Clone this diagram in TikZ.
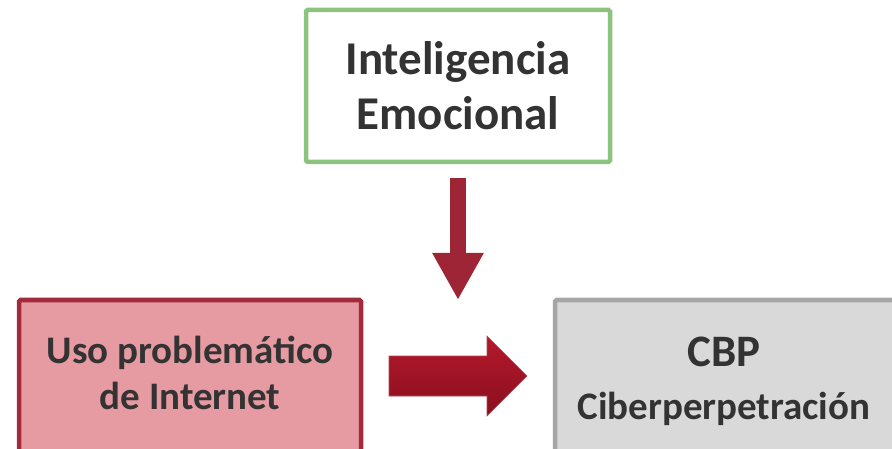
\documentclass[tikz,border=0pt]{standalone}
\usepackage{fontspec}
\setmainfont{Carlito}
\usetikzlibrary{arrows.meta,calc}
\definecolor{txtgray}{HTML}{333333}
\definecolor{iegreen}{HTML}{8CC47F}
\definecolor{pired}{HTML}{A22B3B}
\definecolor{pipink}{HTML}{E69AA1}
\definecolor{cbpline}{HTML}{A6A6A6}
\definecolor{cbpfill}{HTML}{D9D9D9}
\definecolor{arrdown}{HTML}{9E2536}
\definecolor{arrtop}{HTML}{B3192C}
\definecolor{arrbot}{HTML}{8A0F1F}
\tikzset{
  boxbase/.style={rectangle, line width=4.5pt, rounded corners=1.5pt, inner sep=0pt},
  iebox/.style={boxbase, draw=iegreen, fill=white, minimum width=304pt, minimum height=152pt,
     align=center, text=txtgray, font=\bfseries\fontsize{47}{55}\selectfont},
  pibox/.style={boxbase, draw=pired, fill=pipink, minimum width=342pt, minimum height=220pt},
  cbpbox/.style={boxbase, draw=cbpline, fill=cbpfill, minimum width=342pt, minimum height=220pt},
  boxtext/.style={align=center, text=txtgray, inner sep=0pt, font=\bfseries\fontsize{39}{46}\selectfont},
}
\begin{document}
\begin{tikzpicture}[x=1pt,y=-1pt]
\useasboundingbox (0,0) rectangle (892,449);
\clip (0,0) rectangle (892,449);
\node[iebox] (ie) at (458,86) {Inteligencia\\Emocional};
\node[pibox, anchor=north west] (pi) at (16.75,297.75) {};
\node[boxtext] (pit) at (190,373) {Uso problemático\\de Internet};
\node[cbpbox, anchor=north west] (cbp) at (552.75,297.75) {};
\node[boxtext, font=\bfseries\fontsize{39}{53}\selectfont] (cbpt) at (724,381)
  {{\fontsize{45}{53}\selectfont CBP}\\Ciberperpetración};
% down arrow
\coordinate (d0) at ($(ie.south)+(0,14)$);
\coordinate (d1) at (458,300);
\draw[arrdown, line width=16pt, -{Triangle[width=48pt,length=47pt]}] (d0) -- (d1);
% right arrow
\coordinate (r0) at (389,356);
\coordinate (r1) at (487,336);
\coordinate (r2) at (527,376);
\path[top color=arrtop, bottom color=arrbot, draw=pired!85!white, line width=0.6pt]
  (r0) -- (r0 -| r1) -- (r1) -- (r2) -- (487,416) -- (487,396) -- (389,396) -- cycle;
\end{tikzpicture}
\end{document}
